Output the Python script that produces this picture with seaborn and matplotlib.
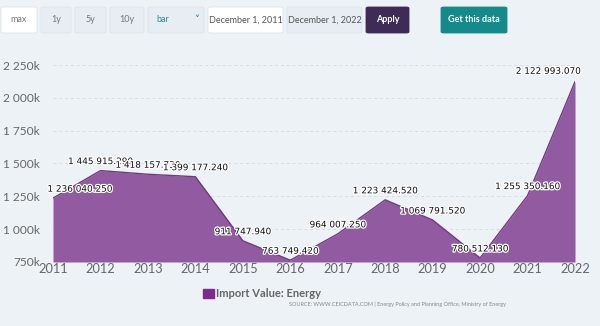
import matplotlib
matplotlib.use("Agg")
import matplotlib.pyplot as plt
import matplotlib.patheffects as pe
from matplotlib.patches import FancyBboxPatch, Rectangle
import seaborn as sns
import pandas as pd

years = [2011, 2012, 2013, 2014, 2015, 2016, 2017, 2018, 2019, 2020, 2021, 2022]
values = [1236040.250, 1445915.290, 1418157.730, 1399177.240, 911747.940, 763749.420,
          964007.250, 1223424.520, 1069791.520, 780512.130, 1255350.160, 2122993.070]
value_labels = ["1 236 040.250", "1 445 915.290", "1 418 157.730", "1 399 177.240",
                "911 747.940", "763 749.420", "964 007.250", "1 223 424.520",
                "1 069 791.520", "780 512.130", "1 255 350.160", "2 122 993.070"]
y_ticks = [750000, 1000000, 1250000, 1500000, 1750000, 2000000, 2250000]
y_tick_labels = ["750k", "1 000k", "1 250k", "1 500k", "1 750k", "2 000k", "2 250k"]
series_name = "Import Value: Energy"
source_text = "SOURCE: WWW.CEICDATA.COM | Energy Policy and Planning Office, Ministry of Energy"

df = pd.DataFrame({"year": years, "value": values})

BG = "#edf2f7"
FILL = "#925aa0"
LINE = "#6e3a80"
SWATCH = "#7a2d8c"

sns.set_theme(style="white")
plt.rcParams["font.family"] = ["Lato", "DejaVu Sans"]

fig = plt.figure(figsize=(6.0, 3.26), dpi=100, facecolor=BG)
W, H = 600, 326
ax = fig.add_axes([53 / W, 1 - 262 / H, (575 - 53) / W, (262 - 65) / H])
ax.set_facecolor(BG)

ax.fill_between(df["year"], df["value"], 750000, color=FILL, lw=0, zorder=2)
sns.lineplot(data=df, x="year", y="value", ax=ax, color=LINE, lw=1.0, zorder=3)

ax.set_xlim(2011, 2022)
ax.set_ylim(750000, 2250000)
ax.set_yticks(y_ticks)
ax.set_yticklabels(y_tick_labels)
ax.set_xticks(years)
ax.set_xticklabels([str(y) for y in years])
ax.tick_params(axis="y", length=0, pad=9.5, labelsize=8.6, labelcolor="#666666")
ax.tick_params(axis="x", length=0, pad=1, labelsize=9.2, labelcolor="#666666")
ax.set_xlabel("")
ax.set_ylabel("")
for s in ax.spines.values():
    s.set_visible(False)
ax.yaxis.grid(True, color="#d9dde3", lw=0.7, ls=(0, (3, 3)), zorder=0)
ax.set_axisbelow(True)

offsets = {0: (-4, 6.5, "left"), 11: (4, 7.5, "right")}
for i, (x, y, lab) in enumerate(zip(years, values, value_labels)):
    dx, dy, ha = offsets.get(i, (0, 6.5, "center"))
    ax.annotate(lab, (x, y), xytext=(dx, dy), textcoords="offset points",
                ha=ha, va="center", fontsize=6.4, color="#111111",
                family=["DejaVu Sans"], zorder=5,
                path_effects=[pe.withStroke(linewidth=1.8, foreground="white")],
                annotation_clip=False)

# legend
fig.patches.append(Rectangle((203 / W, 1 - 298 / H), 11 / W, 9 / H,
                             transform=fig.transFigure, color=SWATCH))
fig.text(216 / W, 1 - 293.5 / H, series_name, fontsize=8, color="#666666",
         fontweight="bold", va="center", ha="left")
fig.text(506 / W, 1 - 304 / H, source_text, fontsize=4.0, color="#888888",
         va="center", ha="right")

# top controls
def button(x0, x1, face, label, tcolor, edge="#dde3ea", bold=False, fs=6.5, lx=None, ha="center"):
    y0, y1 = 7, 33
    p = FancyBboxPatch((x0 / W, 1 - y1 / H), (x1 - x0) / W, (y1 - y0) / H,
                       boxstyle="round,pad=0,rounding_size=0.004",
                       transform=fig.transFigure, facecolor=face, edgecolor=edge, lw=0.6)
    fig.patches.append(p)
    tx = (x0 + x1) / 2 if lx is None else lx
    fig.text(tx / W, 1 - 20 / H, label, fontsize=fs, color=tcolor, ha=ha, va="center",
             fontweight="bold" if bold else "normal")

button(1, 37, "#ffffff", "max", "#777777")
button(41, 71, "#e8edf3", "1y", "#777777")
button(75, 106, "#e8edf3", "5y", "#777777")
button(110, 144, "#e8edf3", "10y", "#777777")
button(148, 204, "#e8edf3", "bar", "#2a8c8c", lx=156, ha="left")
fig.text(197 / W, 1 - 20 / H, "\u02c5", fontsize=7, color="#2a8c8c", ha="center", va="center",
         fontweight="bold", family=["DejaVu Sans"])
button(208, 283, "#ffffff", "December 1, 2011", "#555555")
button(287, 362, "#e8edf3", "December 1, 2022", "#555555")
button(366, 409, "#3e2b56", "Apply", "#ffffff", edge="#3e2b56", bold=True)
button(441, 507, "#148a8a", "Get this data", "#ffffff", edge="#148a8a", bold=True)

fig.savefig("out.png", dpi=100, facecolor=BG)
